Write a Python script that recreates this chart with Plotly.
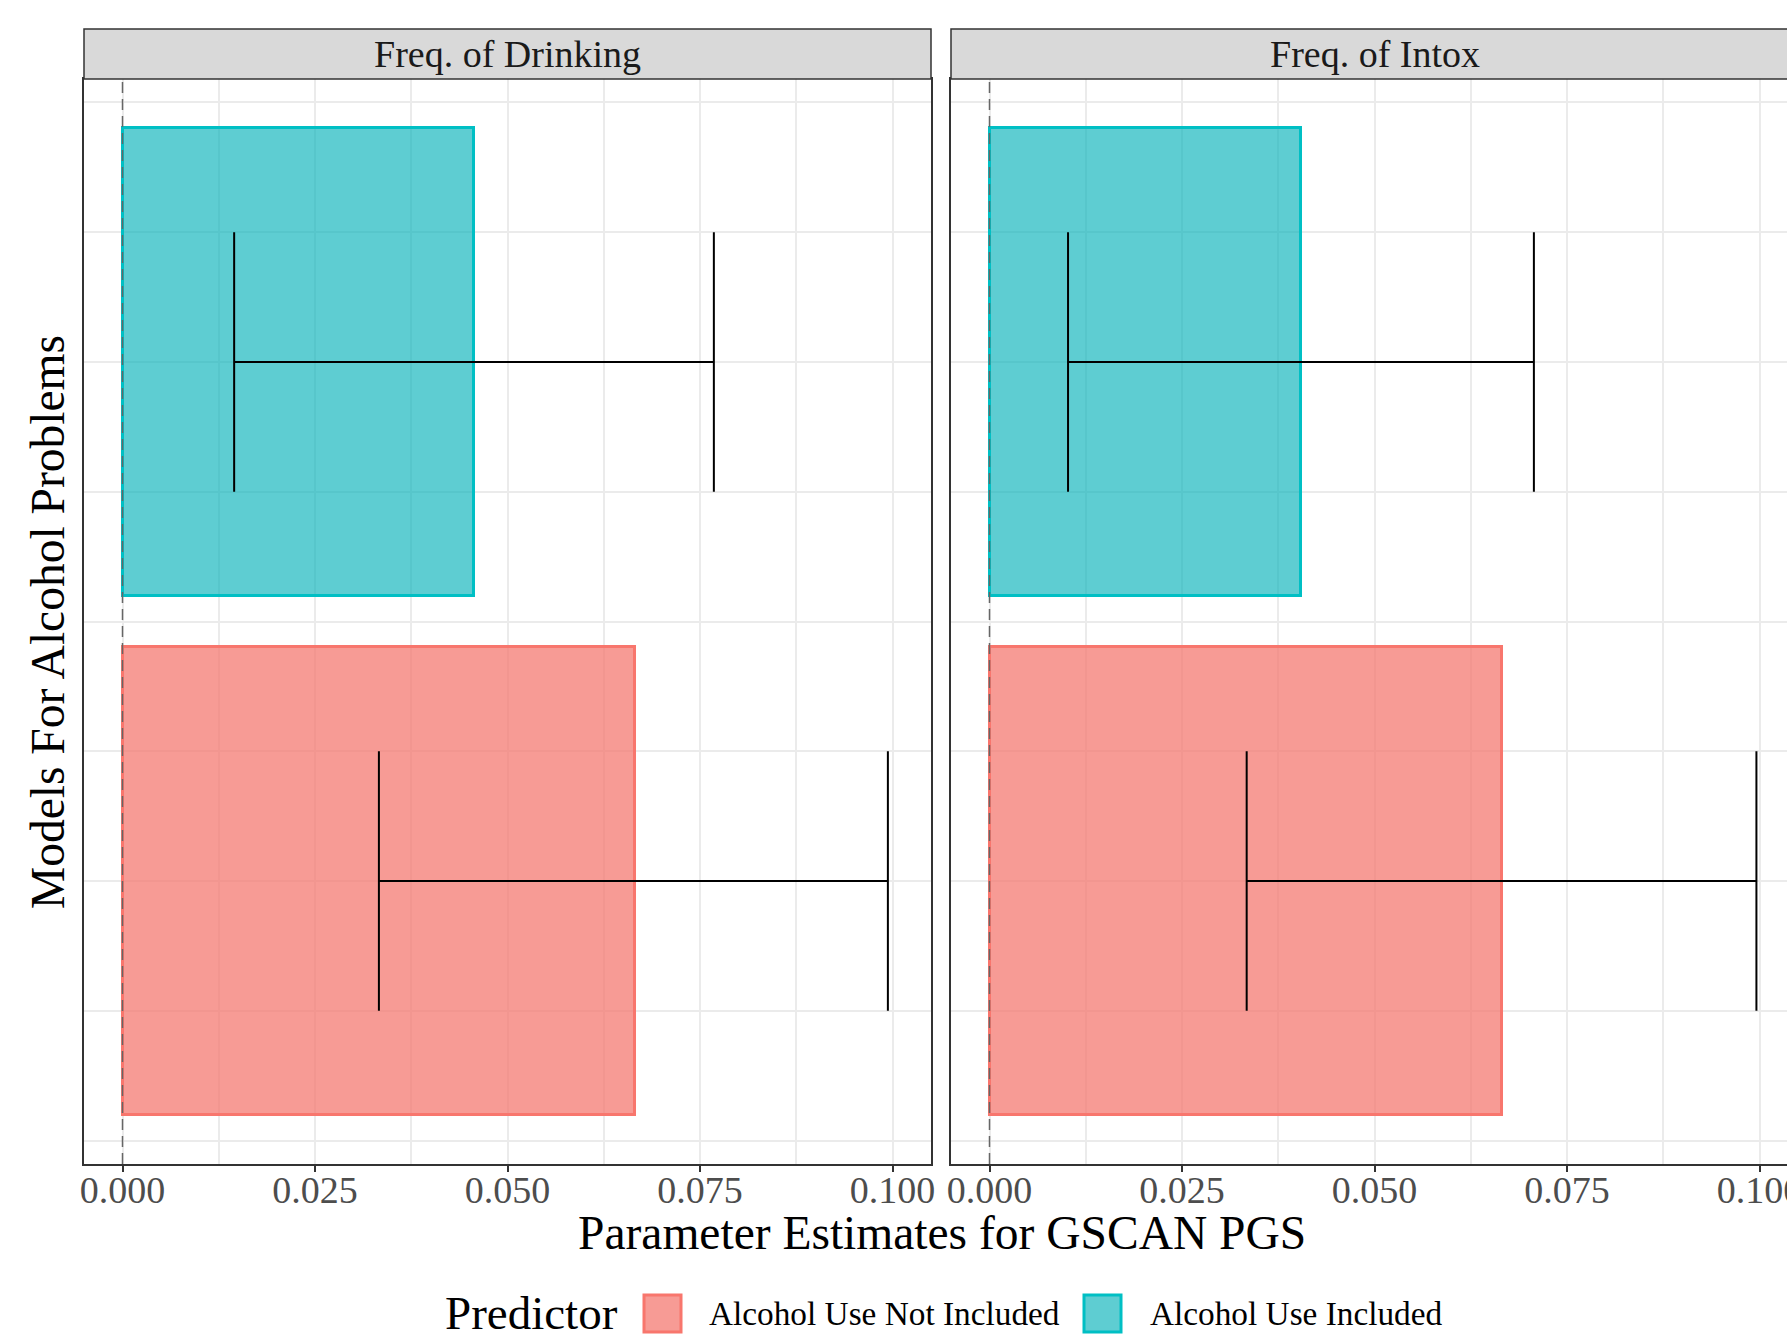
import plotly.graph_objects as go

# ---------------- data ----------------
facets = ["Freq. of Drinking", "Freq. of Intox"]
predictors = ["Alcohol Use Not Included", "Alcohol Use Included"]
predictor_pos = [1, 2]
colors = ["#F8766D", "#00BFC4"]
fills = ["rgba(244,116,108,0.72)", "rgba(0,176,184,0.63)"]

est_drinking = [0.0666, 0.0457]
lo_drinking = [0.0333, 0.0145]
hi_drinking = [0.0994, 0.0768]

est_intox = [0.0666, 0.0405]
lo_intox = [0.0334, 0.0102]
hi_intox = [0.0996, 0.0707]

x_ticks = [0.0, 0.025, 0.05, 0.075, 0.1]

# ---------------- layout geometry ----------------
W, H = 1787, 1341
L, R, T, B = 84, 0, 79, 177
PW, PH = W - L - R, H - T - B
panel_w = 847
gap = 20
STRIP_H = 50

def px_x(px):
    return (px - L) / PW

def px_y(py):
    return (H - B - py) / PH

FONT = "Liberation Serif, Times New Roman, serif"

dom1 = [0, panel_w / PW]
dom2 = [(panel_w + gap) / PW, 1]
units_per_px = 0.11 / panel_w
right_max = -0.005 + (dom2[1] - dom2[0]) * PW * units_per_px

fig = go.Figure()

panels = [
    ("x", "y", est_drinking, lo_drinking, hi_drinking),
    ("x2", "y2", est_intox, lo_intox, hi_intox),
]
cap = 0.25
for xa, ya, est, lo, hi in panels:
    for i in range(len(predictors)):
        fig.add_trace(go.Bar(
            x=[est[i]], y=[predictor_pos[i]], base=0, orientation="h", width=0.9,
            marker=dict(color=fills[i], line=dict(color=colors[i], width=3)),
            xaxis=xa, yaxis=ya, showlegend=False, name=predictors[i],
        ))
    ex, ey = [], []
    for i in range(len(predictors)):
        yc = predictor_pos[i]
        ex += [lo[i], lo[i], None, lo[i], hi[i], None, hi[i], hi[i], None]
        ey += [yc - cap, yc + cap, None, yc, yc, None, yc - cap, yc + cap, None]
    fig.add_trace(go.Scatter(x=ex, y=ey, mode="lines", line=dict(color="black", width=2),
                             xaxis=xa, yaxis=ya, showlegend=False, hoverinfo="skip"))

grid = "#EBEBEB"
xcommon = dict(
    tickvals=x_ticks, tickformat=".3f", ticks="outside", ticklen=6, tickwidth=1.5,
    tickcolor="#333333", showgrid=True, gridcolor=grid, gridwidth=2,
    minor=dict(dtick=0.0125, tick0=0, showgrid=True, gridcolor=grid, gridwidth=1.5, ticks=""),
    zeroline=False, showline=True, linecolor="#333333", linewidth=1.5, mirror=True,
    tickfont=dict(family=FONT, size=38, color="#4D4D4D"),
    ticklabelstandoff=-14, ticklabeloverflow="allow", automargin=False,
)
ycommon = dict(
    range=[0.455, 2.545], tickvals=[0.5, 1, 1.5, 2, 2.5], showticklabels=False, ticks="",
    showgrid=True, gridcolor=grid, gridwidth=2,
    minor=dict(tickvals=[0.75, 1.25, 1.75, 2.25], showgrid=True, gridcolor=grid, gridwidth=1.5),
    zeroline=False, showline=True, linecolor="#333333", linewidth=1.5, automargin=False,
)

fig.update_layout(
    width=W, height=H, margin=dict(l=L, r=R, t=T, b=B, autoexpand=False),
    plot_bgcolor="white", paper_bgcolor="white",
    xaxis=dict(xcommon, domain=dom1, range=[-0.005, 0.105], anchor="y"),
    xaxis2=dict(xcommon, domain=dom2, range=[-0.005, right_max], anchor="y2"),
    yaxis=dict(ycommon, domain=[0, 1], anchor="x", mirror=True),
    yaxis2=dict(ycommon, domain=[0, 1], anchor="x2", mirror=False),
    showlegend=False, bargap=0,
)

shapes = []
annotations = []
# zero reference lines
for xa in ["x", "x2"]:
    shapes.append(dict(type="line", xref=xa, yref="paper", x0=0, x1=0, y0=0, y1=1,
                       line=dict(color="#666666", width=1.5, dash="11px,6px"), layer="above"))
# strips
strip_top = 1 + STRIP_H / PH
for dom, label in zip([dom1, [dom2[0], dom2[0] + panel_w / PW]], facets):
    shapes.append(dict(type="rect", xref="paper", yref="paper", x0=dom[0], x1=dom[1], y0=1, y1=strip_top,
                       fillcolor="#D9D9D9", line=dict(color="#333333", width=1.5), layer="above"))
    annotations.append(dict(text=label, xref="paper", yref="paper", x=(dom[0] + dom[1]) / 2,
                            y=(1 + strip_top) / 2, showarrow=False, xanchor="center", yanchor="middle",
                            font=dict(family=FONT, size=38, color="#1A1A1A")))

# axis titles
annotations.append(dict(text="Parameter Estimates for GSCAN PGS", xref="paper", yref="paper",
                        x=px_x(942), y=px_y(1233), showarrow=False, xanchor="center", yanchor="middle",
                        font=dict(family=FONT, size=47.5, color="black")))
annotations.append(dict(text="Models For Alcohol Problems", xref="paper", yref="paper",
                        x=px_x(48), y=px_y(622), showarrow=False, xanchor="center", yanchor="middle",
                        textangle=-90, font=dict(family=FONT, size=47.5, color="black")))

# legend (manual)
leg_y = 1313
annotations.append(dict(text="Predictor", xref="paper", yref="paper", x=px_x(443), y=px_y(leg_y),
                        showarrow=False, xanchor="left", yanchor="middle",
                        font=dict(family=FONT, size=47, color="black")))
key_x = [644, 1084]
lab_x = [707, 1148]
for i in range(len(predictors)):
    shapes.append(dict(type="rect", xref="paper", yref="paper",
                       x0=px_x(key_x[i]), x1=px_x(key_x[i] + 37),
                       y0=px_y(leg_y - 18), y1=px_y(leg_y + 19),
                       fillcolor=fills[i], line=dict(color=colors[i], width=3)))
    annotations.append(dict(text=predictors[i], xref="paper", yref="paper", x=px_x(lab_x[i]), y=px_y(leg_y),
                            showarrow=False, xanchor="left", yanchor="middle",
                            font=dict(family=FONT, size=33.3, color="black")))

fig.update_layout(shapes=shapes, annotations=annotations)

fig.write_html("out.html", config={"displayModeBar": False},
               post_script="document.body.style.margin='0';document.body.style.overflow='hidden';")
